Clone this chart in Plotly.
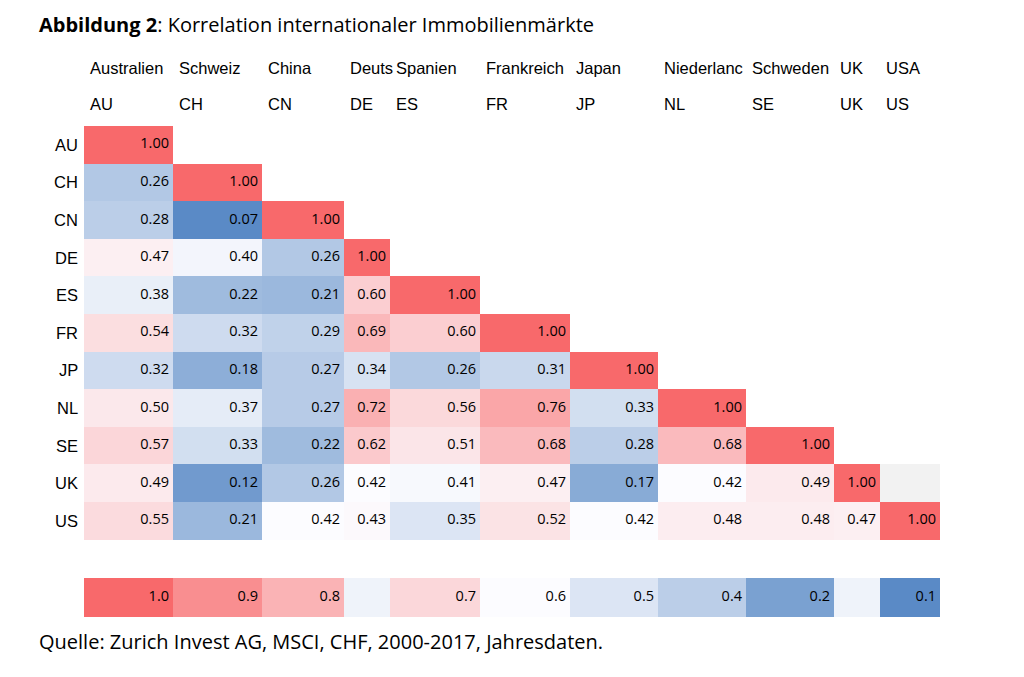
import plotly.graph_objects as go

codes = ["AU", "CH", "CN", "DE", "ES", "FR", "JP", "NL", "SE", "UK", "US"]
names = ["Australien", "Schweiz", "China", "Deuts", "Spanien", "Frankreich", "Japan",
         "Niederlanc", "Schweden", "UK", "USA"]
# lower triangle of the correlation matrix, row by row
corr = [
    [1.00],
    [0.26, 1.00],
    [0.28, 0.07, 1.00],
    [0.47, 0.40, 0.26, 1.00],
    [0.38, 0.22, 0.21, 0.60, 1.00],
    [0.54, 0.32, 0.29, 0.69, 0.60, 1.00],
    [0.32, 0.18, 0.27, 0.34, 0.26, 0.31, 1.00],
    [0.50, 0.37, 0.27, 0.72, 0.56, 0.76, 0.33, 1.00],
    [0.57, 0.33, 0.22, 0.62, 0.51, 0.68, 0.28, 0.68, 1.00],
    [0.49, 0.12, 0.26, 0.42, 0.41, 0.47, 0.17, 0.42, 0.49, 1.00],
    [0.55, 0.21, 0.42, 0.43, 0.35, 0.52, 0.42, 0.48, 0.48, 0.47, 1.00],
]
# legend row (None = blank cell with light shading)
legend_vals = [1.0, 0.9, 0.8, None, 0.7, 0.6, 0.5, 0.4, 0.2, None, 0.1]

# layout: column widths in px (like spreadsheet columns)
col_w = [89, 89, 82, 46, 90, 90, 88, 88, 88, 46, 60]
x0 = 84
xe = [x0]
for w in col_w:
    xe.append(xe[-1] + w)
y0, row_h = 126, 37.6
ye = [y0 + i * row_h for i in range(12)]
leg_y = [578, 617]

blue, white, red = "rgb(90,138,198)", "rgb(252,252,255)", "rgb(248,105,107)"

def scale(lo, mid, hi):
    return [[0, blue], [(mid - lo) / (hi - lo), white], [1, red]]

n = len(codes)
z = [[corr[r][c] if c < len(corr[r]) else None for c in range(n)] for r in range(n)]

fig = go.Figure()
fig.add_trace(go.Heatmap(x=xe, y=ye, z=z, colorscale=scale(0.07, 0.42, 1.0),
                         zmin=0.07, zmax=1.0, showscale=False, hoverongaps=False))
# grey cell right of UK diagonal
grey = [[None] * n for _ in range(n)]
grey[9][10] = 1
fig.add_trace(go.Heatmap(x=xe, y=ye, z=grey, colorscale=[[0, "#f2f2f2"], [1, "#f2f2f2"]],
                         showscale=False, hoverongaps=False))
leg_z = [[v if v is not None else 0.56 for v in legend_vals]]
fig.add_trace(go.Heatmap(x=xe, y=leg_y, z=leg_z, colorscale=scale(0.1, 0.6, 1.0),
                         zmin=0.1, zmax=1.0, showscale=False))

# cell labels, right aligned
tx, ty, tt = [], [], []
for r in range(n):
    for c, v in enumerate(corr[r]):
        tx.append(xe[c + 1] - 4)
        ty.append((ye[r] + ye[r + 1]) / 2)
        tt.append(f"{v:.2f}")
for c, v in enumerate(legend_vals):
    if v is not None:
        tx.append(xe[c + 1] - 4)
        ty.append(sum(leg_y) / 2)
        tt.append(f"{v:.1f}")
fig.add_trace(go.Scatter(x=tx, y=ty, text=tt, mode="text", textposition="middle left",
                         textfont=dict(family="Open Sans", size=14.5, color="black"),
                         hoverinfo="skip"))

ann = []
for c in range(n):
    ann.append(dict(x=xe[c] + 4, y=68, text=names[c], xanchor="left"))
    ann.append(dict(x=xe[c] + 4, y=104, text=codes[c], xanchor="left"))
    ann.append(dict(x=80, y=(ye[c] + ye[c + 1]) / 2, text=codes[c], xanchor="right"))
for a in ann:
    a.update(xref="x", yref="y", showarrow=False, yanchor="middle",
             font=dict(family="Liberation Sans", size=16.5, color="black"))

fig.update_layout(
    width=1024, height=677,
    margin=dict(l=0, r=0, t=0, b=0),
    paper_bgcolor="white", plot_bgcolor="white",
    showlegend=False,
    annotations=ann + [
        dict(x=37, y=24, xref="x", yref="y", xanchor="left", yanchor="middle", showarrow=False,
             text="<b>Abbildung 2</b>: Korrelation internationaler Immobilienmärkte",
             font=dict(family="Open Sans", size=20, color="black")),
        dict(x=37, y=641, xref="x", yref="y", xanchor="left", yanchor="middle", showarrow=False,
             text="Quelle: Zurich Invest AG, MSCI, CHF, 2000-2017, Jahresdaten.",
             font=dict(family="Open Sans", size=20, color="black")),
    ],
    xaxis=dict(range=[8, 1032], visible=False, fixedrange=True),
    yaxis=dict(range=[685, 8], visible=False, fixedrange=True),
)

fig.write_html("out.html")
